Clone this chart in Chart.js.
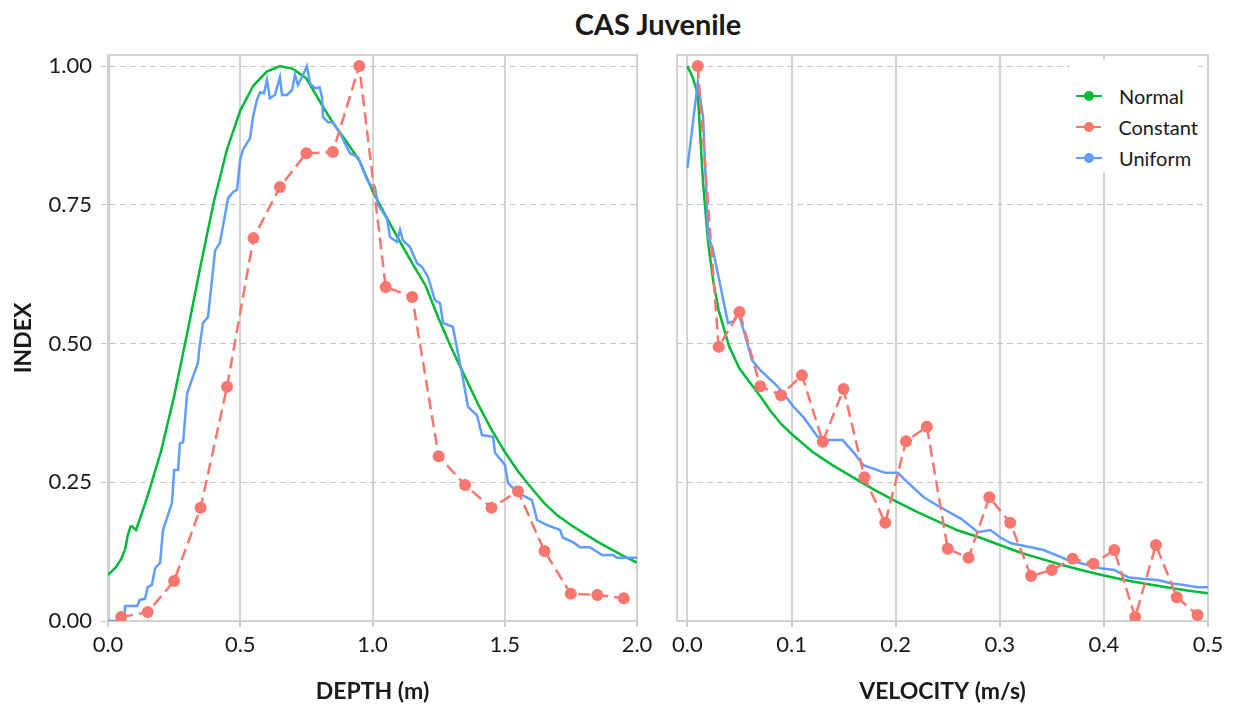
<!DOCTYPE html>
<html>
<head>
<meta charset="utf-8">
<script src="https://cdn.jsdelivr.net/npm/chart.js@4.4.0/dist/chart.umd.min.js"></script>
<style>
  body { margin: 0; width: 1236px; height: 709px; background: #fff; position: relative; overflow: hidden; font-family: Lato, sans-serif; }
  #title { position: absolute; left: 458px; width: 400px; top: 7px; line-height: 34px; text-align: center; font-weight: bold; font-size: 29px; color: #1a1a1a; }
  #depthChart { position: absolute; left: 0; top: 0; }
  #velocityChart { position: absolute; left: 660px; top: 0; }
  #legend { position: absolute; left: 1070px; top: 60px; width: 128px; height: 112px; background: #fff; padding-top: 20px; box-sizing: border-box; }
  .item { height: 31px; display: flex; align-items: center; padding-left: 6px; font-size: 20px; color: #1a1a1a; }
  .mark { position: relative; width: 26px; height: 12px; margin-right: 17px; }
  .mark .ln { position: absolute; left: 0; right: 0; top: 5px; height: 2px; }
  .mark .dot { position: absolute; left: 8px; top: 1px; width: 10px; height: 10px; border-radius: 50%; }
</style>
</head>
<body>
<div id="title">CAS Juvenile</div>
<canvas id="depthChart" width="660" height="709"></canvas>
<canvas id="velocityChart" width="576" height="709"></canvas>
<div id="legend"></div>
<script>
const seriesNames = ['Normal', 'Constant', 'Uniform'];
const seriesColors = ['#00BA38', '#F8766D', '#619CFF'];
const indexTicks = [0, 0.25, 0.5, 0.75, 1];
const depthTicks = [0, 0.5, 1, 1.5, 2];
const velocityTicks = [0, 0.1, 0.2, 0.3, 0.4, 0.5];

// DEPTH panel
const depthNormalX = [0, 0.03, 0.05, 0.065, 0.075, 0.085, 0.09, 0.1, 0.106, 0.13, 0.15, 0.2, 0.25, 0.3, 0.35, 0.4, 0.45, 0.5, 0.55, 0.6, 0.65, 0.7, 0.75, 0.8, 0.85, 0.9, 0.95, 1.0, 1.05, 1.1, 1.15, 1.2, 1.25, 1.3, 1.35, 1.4, 1.45, 1.5, 1.55, 1.6, 1.65, 1.7, 1.75, 1.8, 1.85, 1.9, 1.95, 2.0];
const depthNormalY = [0.083, 0.097, 0.112, 0.13, 0.155, 0.17, 0.171, 0.166, 0.164, 0.197, 0.226, 0.305, 0.405, 0.52, 0.64, 0.755, 0.85, 0.92, 0.965, 0.99, 1.0, 0.995, 0.978, 0.937, 0.898, 0.865, 0.83, 0.775, 0.73, 0.687, 0.645, 0.605, 0.545, 0.49, 0.44, 0.39, 0.345, 0.305, 0.27, 0.24, 0.212, 0.19, 0.173, 0.158, 0.143, 0.13, 0.117, 0.105];

const depthConstantX = [0.05, 0.15, 0.25, 0.35, 0.45, 0.55, 0.65, 0.75, 0.85, 0.95, 1.05, 1.15, 1.25, 1.35, 1.45, 1.55, 1.65, 1.75, 1.85, 1.95];
const depthConstantY = [0.007, 0.016, 0.072, 0.204, 0.422, 0.69, 0.782, 0.843, 0.845, 1.0, 0.602, 0.584, 0.297, 0.245, 0.204, 0.234, 0.126, 0.049, 0.047, 0.041];

const depthUniformX = [0, 0.06, 0.065, 0.11, 0.12, 0.14, 0.15, 0.166, 0.178, 0.197, 0.208, 0.242, 0.25, 0.265, 0.272, 0.284, 0.299, 0.321, 0.34, 0.345, 0.359, 0.378, 0.405, 0.423, 0.454, 0.473, 0.488, 0.499, 0.51, 0.537, 0.548, 0.563, 0.575, 0.59, 0.601, 0.612, 0.631, 0.65, 0.658, 0.677, 0.696, 0.707, 0.718, 0.737, 0.752, 0.764, 0.783, 0.8, 0.809, 0.813, 0.832, 0.851, 0.877, 0.915, 0.945, 0.979, 0.998, 1.009, 1.021, 1.055, 1.066, 1.093, 1.104, 1.115, 1.142, 1.168, 1.187, 1.21, 1.236, 1.255, 1.267, 1.304, 1.323, 1.338, 1.361, 1.395, 1.414, 1.456, 1.463, 1.501, 1.512, 1.55, 1.603, 1.622, 1.66, 1.709, 1.72, 1.758, 1.785, 1.822, 1.868, 1.909, 1.924, 2.0];
const depthUniformY = [0, 0, 0.027, 0.027, 0.038, 0.04, 0.061, 0.065, 0.095, 0.105, 0.164, 0.213, 0.272, 0.272, 0.32, 0.322, 0.41, 0.44, 0.465, 0.49, 0.537, 0.548, 0.668, 0.681, 0.762, 0.773, 0.777, 0.83, 0.849, 0.87, 0.908, 0.939, 0.953, 0.951, 0.975, 0.942, 0.948, 0.98, 0.948, 0.948, 0.957, 0.984, 0.966, 0.984, 1.0, 0.969, 0.96, 0.962, 0.944, 0.908, 0.899, 0.899, 0.879, 0.843, 0.836, 0.796, 0.782, 0.782, 0.75, 0.725, 0.692, 0.683, 0.705, 0.686, 0.674, 0.645, 0.638, 0.62, 0.578, 0.573, 0.537, 0.53, 0.483, 0.447, 0.386, 0.371, 0.335, 0.332, 0.303, 0.281, 0.249, 0.231, 0.218, 0.182, 0.173, 0.164, 0.15, 0.142, 0.133, 0.133, 0.119, 0.119, 0.114, 0.114];

// VELOCITY panel
const velNormalX = [0, 0.005, 0.01, 0.015, 0.02, 0.025, 0.03, 0.04, 0.05, 0.06, 0.07, 0.08, 0.09, 0.1, 0.12, 0.14, 0.16, 0.18, 0.2, 0.22, 0.24, 0.26, 0.28, 0.3, 0.32, 0.34, 0.36, 0.38, 0.4, 0.42, 0.44, 0.46, 0.48, 0.5];
const velNormalY = [1.0, 0.98, 0.95, 0.79, 0.68, 0.61, 0.56, 0.495, 0.455, 0.43, 0.405, 0.378, 0.355, 0.337, 0.305, 0.28, 0.258, 0.236, 0.216, 0.197, 0.18, 0.163, 0.151, 0.137, 0.123, 0.112, 0.101, 0.091, 0.082, 0.074, 0.067, 0.061, 0.055, 0.05];

const velConstantX = [0.01, 0.03, 0.05, 0.07, 0.09, 0.11, 0.13, 0.15, 0.17, 0.19, 0.21, 0.23, 0.25, 0.27, 0.29, 0.31, 0.33, 0.35, 0.37, 0.39, 0.41, 0.43, 0.45, 0.47, 0.49];
const velConstantY = [1.0, 0.494, 0.557, 0.423, 0.407, 0.443, 0.323, 0.418, 0.259, 0.177, 0.324, 0.35, 0.13, 0.114, 0.223, 0.177, 0.081, 0.092, 0.112, 0.103, 0.128, 0.007, 0.137, 0.043, 0.011];

const velUniformX = [0, 0.01, 0.015, 0.02, 0.024, 0.039, 0.044, 0.049, 0.054, 0.062, 0.07, 0.087, 0.102, 0.112, 0.125, 0.135, 0.149, 0.16, 0.169, 0.19, 0.202, 0.212, 0.227, 0.243, 0.263, 0.279, 0.291, 0.301, 0.311, 0.33, 0.342, 0.359, 0.365, 0.378, 0.397, 0.41, 0.423, 0.436, 0.452, 0.464, 0.477, 0.49, 0.5];
const velUniformY = [0.816, 0.971, 0.908, 0.692, 0.674, 0.537, 0.54, 0.555, 0.524, 0.47, 0.452, 0.422, 0.386, 0.366, 0.332, 0.326, 0.326, 0.303, 0.281, 0.267, 0.267, 0.249, 0.223, 0.205, 0.184, 0.16, 0.164, 0.15, 0.14, 0.133, 0.128, 0.115, 0.11, 0.104, 0.095, 0.092, 0.079, 0.076, 0.074, 0.068, 0.065, 0.061, 0.061];

const FONT = 'Lato';
const TEXT = '#1a1a1a';

function pts(xs, ys) {
    return xs.map((x, i) => ({ x: x, y: ys[i] }));
}

// light grey box around the plotting area
const framePlugin = {
    id: 'frame',
    beforeDatasetsDraw(chart) {
        const a = chart.chartArea;
        const ctx = chart.ctx;
        ctx.save();
        ctx.strokeStyle = '#d2d2d2';
        ctx.lineWidth = 2;
        ctx.strokeRect(a.left, a.top, a.right - a.left, a.bottom - a.top);
        ctx.restore();
    }
};

function makeChart(id, cfg) {
    const ctx = document.getElementById(id).getContext('2d');
    return new Chart(ctx, {
        type: 'line',
        data: {
            datasets: [
                {
                    label: seriesNames[0], data: pts(cfg.normal[0], cfg.normal[1]),
                    borderColor: seriesColors[0], borderWidth: 2.5, pointRadius: 0, order: 2
                },
                {
                    label: seriesNames[1], data: pts(cfg.constant[0], cfg.constant[1]),
                    borderColor: seriesColors[1], borderWidth: 2.5, borderDash: [12, 6],
                    pointRadius: 6, pointBackgroundColor: seriesColors[1], pointBorderWidth: 0, order: 0
                },
                {
                    label: seriesNames[2], data: pts(cfg.uniform[0], cfg.uniform[1]),
                    borderColor: seriesColors[2], borderWidth: 2.5, pointRadius: 0, order: 1
                }
            ]
        },
        options: {
            responsive: false,
            animation: false,
            devicePixelRatio: 1,
            layout: { padding: { top: 55, right: cfg.padRight, bottom: 0, left: 0 } },
            plugins: { legend: { display: false }, tooltip: { enabled: false } },
            scales: {
                x: {
                    type: 'linear',
                    min: cfg.xMin,
                    max: cfg.xMax,
                    afterBuildTicks: s => { s.ticks = cfg.xTicks.map(v => ({ value: v })); },
                    afterFit: s => { s.height = 88; },
                    ticks: {
                        callback: v => v.toFixed(1),
                        font: { family: FONT, size: 22 }, color: TEXT,
                        padding: 5, maxRotation: 0, autoSkip: false
                    },
                    grid: { color: '#d4d4d4', lineWidth: 2, tickLength: 6, tickColor: '#cccccc' },
                    border: { display: false },
                    title: {
                        display: true, text: cfg.xTitle, color: TEXT,
                        font: { family: FONT, size: 23, weight: 'bold' },
                        padding: { top: 0, bottom: 4 }
                    }
                },
                y: {
                    min: 0,
                    max: 1.02,
                    afterBuildTicks: s => { s.ticks = indexTicks.map(v => ({ value: v })); },
                    afterFit: s => { s.width = cfg.yWidth; },
                    ticks: {
                        display: cfg.showY,
                        callback: v => v.toFixed(2),
                        font: { family: FONT, size: 22 }, color: TEXT, padding: 9
                    },
                    grid: { color: '#c6c6c6', lineWidth: 1, drawTicks: cfg.showY, tickLength: 7, tickColor: '#c8c8c8' },
                    border: { display: cfg.showY, dash: [6, 4], color: '#c8c8c8', width: 3 },
                    title: {
                        display: cfg.showY, text: 'INDEX', color: TEXT,
                        font: { family: FONT, size: 23, weight: 'bold' },
                        padding: { top: 10, bottom: 0 }
                    }
                }
            }
        },
        plugins: [framePlugin]
    });
}

makeChart('depthChart', {
    normal: [depthNormalX, depthNormalY],
    constant: [depthConstantX, depthConstantY],
    uniform: [depthUniformX, depthUniformY],
    xMin: 0, xMax: 2, xTicks: depthTicks, xTitle: 'DEPTH (m)',
    showY: true, yWidth: 108, padRight: 23
});

makeChart('velocityChart', {
    normal: [velNormalX, velNormalY],
    constant: [velConstantX, velConstantY],
    uniform: [velUniformX, velUniformY],
    xMin: -0.01, xMax: 0.5, xTicks: velocityTicks, xTitle: 'VELOCITY (m/s)',
    showY: false, yWidth: 17, padRight: 28
});

// legend (inside the velocity panel)
const legend = document.getElementById('legend');
seriesNames.forEach((name, i) => {
    const row = document.createElement('div');
    row.className = 'item';
    row.innerHTML = '<span class="mark"><span class="ln" style="background:' + seriesColors[i] + '"></span>' +
        '<span class="dot" style="background:' + seriesColors[i] + '"></span></span>' + name;
    legend.appendChild(row);
});
</script>
</body>
</html>
